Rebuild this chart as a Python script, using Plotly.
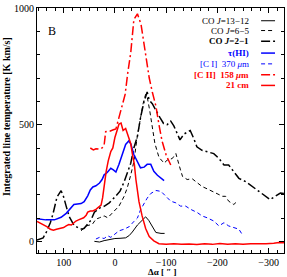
import plotly.graph_objects as go

# ---- data (offset in arcsec, integrated line temperature K km/s) ----
co1312_x = [40, 30, 21, 11, 0, -10, -21, -28, -34, -44, -53, -60, -66, -72, -80, -90, -97]
co1312_y = [0, -3, 3, 8, 12, 13, 15, 25, 40, 70, 90, 105, 90, 65, 38, 34, 34]

co65_x = [66, 56, 44, 37, 30, 21, 14, 5, -2, -8, -18, -24, -31, -37, -44, -50, -55, -60,
          -63, -68, -73, -78, -86, -96, -102, -112, -119, -122, -128, -132, -141, -151,
          -161, -170, -180, -190, -200, -210, -216, -222, -232, -239]
co65_y = [45, 66, 73, 95, 101, 109, 101, 123, 137, 151, 193, 228, 285, 341, 454, 530, 590, 630,
          620, 560, 480, 420, 360, 335, 348, 355, 376, 350, 306, 278, 265, 268,
          250, 235, 225, 215, 205, 193, 193, 172, 158, 172]

co21_x = [152, 140, 134, 126, 121, 116, 113, 105, 100, 95, 89, 80, 71, 64, 60, 51, 47, 40, 34,
          28, 21, 11, 0, -10, -18, -24, -31, -37, -44, -50, -57, -63, -67, -73, -80, -88,
          -95, -102, -109, -115, -121, -127, -135, -147, -154, -160, -170, -180, -193, -203,
          -213, -222, -232, -242, -255, -268, -281, -294, -303, -313, -323, -331]
co21_y = [5, 15, 38, 80, 116, 160, 190, 217, 190, 150, 105, 70, 57, 52, 56, 80, 90, 125, 135,
          145, 150, 165, 190, 215, 255, 290, 335, 400, 450, 530, 600, 640, 605, 590, 560, 530,
          505, 500, 515, 495, 465, 435, 460, 475, 440, 405, 390, 385, 376, 355,
          327, 327, 299, 270, 256, 235, 214, 193, 179, 193, 207, 205]

thi_x = [152, 135, 118, 105, 95, 86, 80, 73, 66, 60, 53, 48, 43, 37, 30, 25, 21, 15, 8, 3,
         -2, -8, -15, -21, -27, -31, -37, -44, -50, -57, -63, -70, -76, -83, -90, -96]
thi_y = [97, 92, 92, 103, 120, 141, 158, 160, 162, 170, 195, 220, 233, 238, 250, 265, 285,
         295, 313, 306, 297, 330, 380, 415, 430, 418, 372, 338, 315, 318, 330, 330, 300, 283,
         270, 260]

ci_x = [37, 30, 21, 14, 8, 1, -8, -18, -28, -37, -44, -50, -57, -63, -70, -80, -90, -99, -109,
        -119, -128, -138, -148, -161, -170, -180, -193, -203, -213, -222, -232, -242, -248]
ci_y = [10, 17, 12, 24, 17, 31, 45, 52, 63, 85, 100, 135, 165, 185, 205, 218, 214, 193, 172,
        165, 151, 151, 137, 123, 109, 101, 87, 66, 80, 66, 59, 52, 31]

cii_x = [48, 42, 37, 30, 25, 21, 18, 10, 3, -2, -8, -15, -20, -25, -31, -37, -44, -51, -57,
         -62, -67, -73, -80, -86, -92, -100, -109]
cii_y = [400, 392, 397, 395, 400, 412, 470, 472, 478, 482, 531, 587, 630, 720, 810, 950, 975,
         930, 850, 770, 700, 640, 580, 500, 430, 370, 327]

hi21_x = [152, 142, 132, 126, 120, 114, 105, 100, 95, 90, 85, 80, 76, 71, 66, 61, 56, 53, 48,
          43, 37, 32, 27, 24, 21, 17, 13, 8, 4, 0, -5, -8, -12, -16, -21, -25, -31, -34, -38,
          -41, -47, -53, -60, -67, -76, -86, -100, -115, -130, -145, -160, -175, -190, -205,
          -220, -235, -250, -265, -280, -295, -310, -320, -330]
hi21_y = [85, 75, 62, 52, 48, 52, 55, 59, 66, 72, 70, 80, 87, 92, 97, 101, 112, 125, 130,
          130, 137, 147, 155, 186, 242, 300, 345, 385, 400, 445, 480, 503, 507, 475, 484, 460,
          418, 376, 330, 265, 170, 110, 55, 20, 2, -10, -12, -10, -13, -11, -14, -10, -13, -9,
          -12, -10, -12, -10, -11, -10, -8, -5, -6]

legend_labels = ["CO <i>J</i>=13\u221212", "CO <i>J</i>=6\u22125", "<b>CO <i>J</i>=2\u22121</b>",
                 "<b>\u03c4(HI)</b>", "[C I]  370 <i>\u03bc</i>m", "<b>[C II]  158 <i>\u03bc</i>m</b>",
                 "<b>21 cm</b>"]

BLACK, BLUE, RED = "#000000", "#0000ff", "#ff0000"
DASHDOT = "9px,3px,2px,3px"
series = [
    (co1312_x, co1312_y, BLACK, 1.0, "solid"),
    (co65_x, co65_y, BLACK, 1.0, "4px,3px"),
    (co21_x, co21_y, BLACK, 1.5, DASHDOT),
    (thi_x, thi_y, BLUE, 1.5, "solid"),
    (ci_x, ci_y, BLUE, 1.0, "4px,3px"),
    (cii_x, cii_y, RED, 1.5, DASHDOT),
    (hi21_x, hi21_y, RED, 1.5, "solid"),
]

fig = go.Figure()
for (xs, ys, col, w, dash), name in zip(series, legend_labels):
    fig.add_trace(go.Scatter(x=xs, y=ys, mode="lines", name=name,
                             line=dict(color=col, width=w, dash=dash),
                             showlegend=False, hoverinfo="skip"))

FONT = "Liberation Serif"
L, R, T, B = 37, 2, 3, 24
W, H = 287, 277
pw, ph = W - L - R, H - T - B

def px_to_paper(px, py):
    return (px - L) / pw, (H - B - py) / ph

# legend as text + samples
row_y = [16, 26, 37, 49, 60, 71, 82]
text_colors = [BLACK, BLACK, BLACK, BLUE, BLUE, RED, RED]
for (xs, ys, col, w, dash), lab, ry, tc in zip(series, legend_labels, row_y, text_colors):
    tx, ty = px_to_paper(252, ry)
    fig.add_annotation(x=tx, y=ty, xref="paper", yref="paper", text=lab, showarrow=False,
                       xanchor="right", yanchor="middle", font=dict(family=FONT, size=9, color=tc))
    x0, _ = px_to_paper(262, ry)
    x1, _ = px_to_paper(276, ry)
    fig.add_shape(type="line", xref="paper", yref="paper", x0=x0, x1=x1, y0=ty, y1=ty,
                  line=dict(color=col, width=w, dash=dash))

bx, by = px_to_paper(52, 26)
fig.add_annotation(x=bx, y=by, xref="paper", yref="paper", text="B", showarrow=False,
                   xanchor="center", yanchor="middle", font=dict(family=FONT, size=12, color=BLACK))

ytx, yty = px_to_paper(7, 114)
fig.add_annotation(x=ytx, y=yty, xref="paper", yref="paper",
                   text="<b>Integrated line temperature [K km/s]</b>", showarrow=False,
                   textangle=-90, xanchor="center", yanchor="middle",
                   font=dict(family=FONT, size=10, color=BLACK))
xtx, xty = px_to_paper(163, 272)
fig.add_annotation(x=xtx, y=xty, xref="paper", yref="paper", text="<b>\u0394\u03b1 [ \u2033 ]</b>",
                   showarrow=False, xanchor="center", yanchor="middle",
                   font=dict(family=FONT, size=9, color=BLACK))

axis_common = dict(showgrid=False, zeroline=False, showline=True, linecolor=BLACK, linewidth=1,
                   mirror="ticks", ticks="inside", ticklen=5, tickcolor=BLACK, tickwidth=1,
                   ticklabeloverflow="allow",
                   tickfont=dict(family=FONT, size=10, color=BLACK))
fig.update_xaxes(range=[152, -330], dtick=100, tick0=0,
                 minor=dict(dtick=100 / 6, tick0=0, ticks="inside", ticklen=3, tickcolor=BLACK),
                 **axis_common)
fig.update_yaxes(range=[-50, 1000], tickvals=[0, 500, 1000],
                 minor=dict(dtick=100, tick0=0, ticks="inside", ticklen=3, tickcolor=BLACK),
                 **axis_common)

fig.update_layout(width=W, height=H, margin=dict(l=L, r=R, t=T, b=B),
                  paper_bgcolor="white", plot_bgcolor="white", showlegend=False,
                  font=dict(family=FONT, color=BLACK))

fig.write_html("out.html", config={"displayModeBar": False},
               post_script="document.body.style.margin='0';document.body.style.padding='0';")
